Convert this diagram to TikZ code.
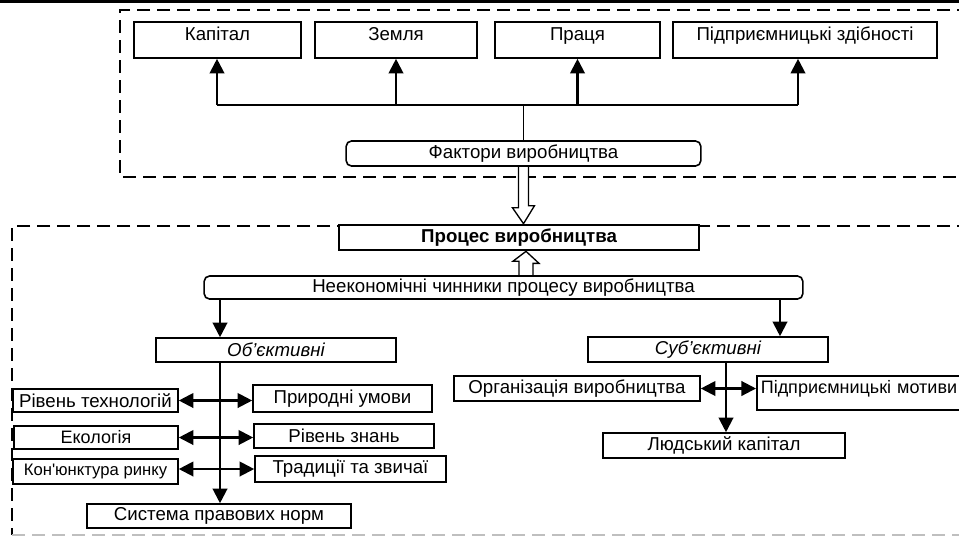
\documentclass[tikz,border=0pt]{standalone}
\usepackage{fontspec}
\setmainfont{Liberation Sans}
\usetikzlibrary{arrows.meta,calc,backgrounds}

\begin{document}
\begin{tikzpicture}[x=0.75pt, y=-0.75pt,
    every node/.style={font=\fontsize{14}{16}\selectfont},
    box/.style={draw, rectangle, fill=white, line width=1.2pt, inner sep=0pt},
    rbox/.style={box, rounded corners=4pt},
    topbox/.style={box, text height=10pt, text depth=10pt, minimum height=27pt},
    arr/.style={line width=1.6pt, -{Triangle[width=11pt,length=11pt]}},
    darr/.style={line width=1.6pt, {Triangle[width=11pt,length=11pt]}-{Triangle[width=11pt,length=11pt]}},
    frame/.style={line width=1.1pt, dash pattern=on 10pt off 5pt},
    hollow/.style={draw, fill=white, line width=1pt}]
    \useasboundingbox (0,0) rectangle (959,537);
    \draw[line width=2pt] (0,1.35) -- (959,1.35);

    % Фактори виробництва
    \node[topbox, minimum width=125pt] (kap) at (217.5,40) {Капітал};
    \node[topbox, minimum width=121.5pt] (zem) at (396,40) {Земля};
    \node[topbox, minimum width=123.75pt] (pra) at (577.5,40) {Праця};
    \node[topbox, minimum width=198pt] (pid) at (805,40) {Підприємницькі здібності};
    \node[rbox, minimum width=266pt, minimum height=18.75pt] (fak) at (523.5,153.5) {Фактори виробництва};

    \node[box, line width=2pt, minimum width=270pt, minimum height=18.75pt,
          font=\fontsize{14}{16}\selectfont\bfseries] (proc) at (519,237.5) {Процес виробництва};
    \node[rbox, minimum width=449pt, minimum height=17.25pt] (neek) at (503.5,287.5) {Неекономічні чинники процесу виробництва};

    % Об'єктивні
    \node[box, minimum width=180pt, minimum height=18pt, font=\fontsize{14}{16}\selectfont\itshape] (obj) at (276,350) {Об’єктивні};
    \node[box, minimum width=123.75pt, minimum height=17.25pt] (rtech) at (95.5,400.5) {Рівень технологій};
    \node[box, minimum width=134.25pt, minimum height=20.25pt] (prir) at (342.5,398.5) {Природні умови};
    \node[box, minimum width=123pt, minimum height=17.25pt, font=\fontsize{13.5}{15}\selectfont] (ekol) at (96,437.5) {Екологія};
    \node[box, minimum width=135pt, minimum height=18pt] (rzn) at (344,436) {Рівень знань};
    \node[box, minimum width=123.75pt, minimum height=18.75pt, font=\fontsize{12.5}{15}\selectfont] (kon) at (95.5,471.5) {Кон\textquotesingle юнктура ринку};
    \node[box, minimum width=143.25pt, minimum height=19.5pt] (trad) at (350.5,469) {Традиції та звичаї};
    \node[box, minimum width=198pt, minimum height=18pt] (sys) at (219,516) {Система правових норм};

    % Суб'єктивні
    \node[box, minimum width=180pt, minimum height=18.75pt, font=\fontsize{14}{16}\selectfont\itshape] (sub) at (708,349.5) {Суб’єктивні};
    \node[box, minimum width=184.5pt, minimum height=18.75pt] (org) at (577,388.5) {Організація виробництва};
    \node[box, anchor=west, inner xsep=3pt, text width=200pt, align=left, minimum height=25.5pt,
          text height=10pt, text depth=10pt, font=\fontsize{13.5}{16}\selectfont] (motiv) at (756,393) {Підприємницькі мотиви};
    \node[box, minimum width=181.5pt, minimum height=18.75pt] (lyud) at (724,445.5) {Людський капітал};

    \coordinate (fl) at (217,105);
    \coordinate (fr) at (798,105);
    \draw[line width=1.6pt] (fl) -- (fr);
    \draw[arr] (fl) -- (fl |- kap.south);
    \draw[arr] (zem.south |- fl) -- (zem.south);
    \draw[arr] (pra.south |- fl) -- (pra.south);
    \draw[arr] (fr) -- (fr |- pid.south);
    \draw[line width=1pt] (fak.north) -- (fak.north |- fl);

    \coordinate (lsp) at (220,362);
    \coordinate (rsp) at (780,299);
    \coordinate (ssp) at (726,362);
    \draw[arr] (neek.south -| lsp) -- (obj.north -| lsp);
    \draw[arr] (rsp) -- (rsp |- sub.north);
    \draw[arr] (lsp) -- (lsp |- sys.north);
    \draw[darr] (rtech.east) -- (rtech.east -| prir.west);
    \draw[darr] (ekol.east) -- (ekol.east -| rzn.west);
    \draw[darr] (trad.west -| kon.east) -- (trad.west);
    \draw[arr] (ssp) -- (ssp |- lyud.north);
    \draw[darr] (org.east) -- (org.east -| motiv.west);

    \begin{scope}[on background layer]
        \draw[frame] (990,10) -- (120,10) -- (120,177) -- (990,177);
        \draw[frame] (990,226) -- (12,226) -- (12,535);
        \draw[frame, black!25] (12,535) -- (990,535);
        \draw[hollow] ($(fak.south)+(-5,0)$) -- ++(0,41) -- ++(-6,0) -- (fak.south |- proc.north)
            -- ++(11,-18) -- ++(-6,0) -- ($(fak.south)+(5,0)$);
        \coordinate (nt) at ($(neek.north)+(22.5,0)$);
        \draw[hollow] ($(nt)+(-7,0)$) -- ++(0,-14) -- ++(-6,0) -- (nt |- proc.south)
            -- ++(13,12) -- ++(-6,0) -- ($(nt)+(7,0)$);
    \end{scope}
\end{tikzpicture}
\end{document}
